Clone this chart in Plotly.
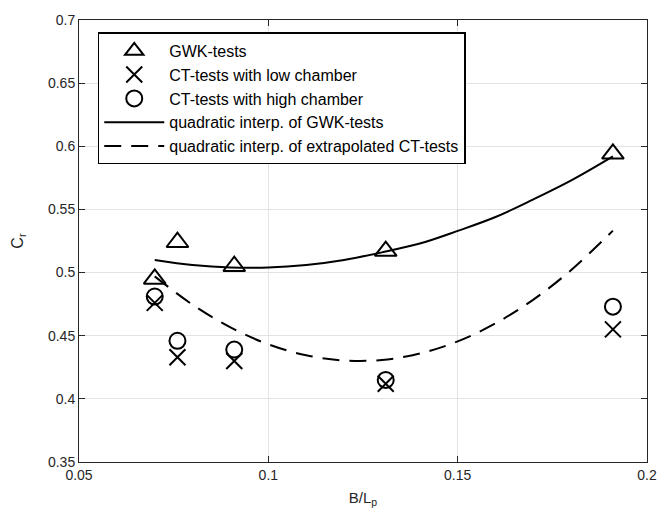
import plotly.graph_objects as go

# Data
x_tests = [0.070, 0.076, 0.091, 0.131, 0.191]
gwk = [0.495, 0.524, 0.505, 0.517, 0.594]
ct_low = [0.476, 0.433, 0.430, 0.412, 0.455]
ct_high = [0.481, 0.446, 0.439, 0.415, 0.473]

x_curve = [0.070, 0.080, 0.090, 0.100, 0.110, 0.120, 0.130, 0.140, 0.150, 0.160, 0.170, 0.180, 0.191]
gwk_fit = [0.510, 0.506, 0.504, 0.504, 0.506, 0.510, 0.516, 0.523, 0.533, 0.544, 0.558, 0.573, 0.592]
ct_fit = [0.497, 0.4745, 0.4566, 0.4432, 0.4345, 0.4304, 0.4308, 0.4359, 0.4455, 0.4598, 0.4786, 0.5021, 0.5332]

x_ticks = [0.05, 0.1, 0.15, 0.2]
x_ticklabels = ["0.05", "0.1", "0.15", "0.2"]
y_ticks = [0.35, 0.4, 0.45, 0.5, 0.55, 0.6, 0.65, 0.7]
y_ticklabels = ["0.35", "0.4", "0.45", "0.5", "0.55", "0.6", "0.65", "0.7"]

fig = go.Figure()
fig.add_trace(go.Scatter(x=x_tests, y=gwk, mode="markers", name="GWK-tests",
                         marker=dict(symbol="triangle-up-open", size=19, color="black",
                                     line=dict(width=2, color="black"))))
fig.add_trace(go.Scatter(x=x_tests, y=ct_low, mode="markers", name="CT-tests with low chamber",
                         marker=dict(symbol="x-thin-open", size=16, color="black",
                                     line=dict(width=2, color="black"))))
fig.add_trace(go.Scatter(x=x_tests, y=ct_high, mode="markers", name="CT-tests with high chamber",
                         marker=dict(symbol="circle-open", size=16, color="black",
                                     line=dict(width=2, color="black"))))
fig.add_trace(go.Scatter(x=x_curve, y=gwk_fit, mode="lines", name="quadratic interp. of GWK-tests",
                         line=dict(color="black", width=2, shape="spline")))
fig.add_trace(go.Scatter(x=x_curve, y=ct_fit, mode="lines", name="quadratic interp. of extrapolated CT-tests",
                         line=dict(color="black", width=2, dash="17px,10px", shape="spline")))

axis_common = dict(showline=True, linecolor="#262626", linewidth=1, mirror="ticks",
                   ticks="inside", ticklen=6, tickcolor="#262626",
                   showgrid=True, gridcolor="#e3e3e3", gridwidth=1, zeroline=False,
                   tickfont=dict(family="Liberation Sans, Arial", size=14, color="#262626"))

fig.update_layout(
    width=669, height=519,
    margin=dict(l=79, r=13, t=14, b=57),
    plot_bgcolor="white", paper_bgcolor="white",
    font=dict(family="Liberation Sans, Arial", size=14, color="#262626"),
    xaxis=dict(range=[0.05, 0.2], tickvals=x_ticks, ticktext=x_ticklabels,
               title=dict(text="B/L<sub>p</sub>", standoff=10,
                          font=dict(size=15, color="#262626")), **axis_common),
    yaxis=dict(range=[0.35, 0.7], tickvals=y_ticks, ticktext=y_ticklabels,
               title=dict(text="C<sub>r</sub>", standoff=20,
                          font=dict(size=16, color="#262626")), **axis_common),
    legend=dict(x=0.033, y=0.972, xanchor="left", yanchor="top",
                bgcolor="white", bordercolor="black", borderwidth=1.5,
                font=dict(family="Liberation Sans, Arial", size=16, color="black"),
                itemwidth=60, tracegroupgap=0),
    showlegend=True,
)

fig.write_html("out.html")
